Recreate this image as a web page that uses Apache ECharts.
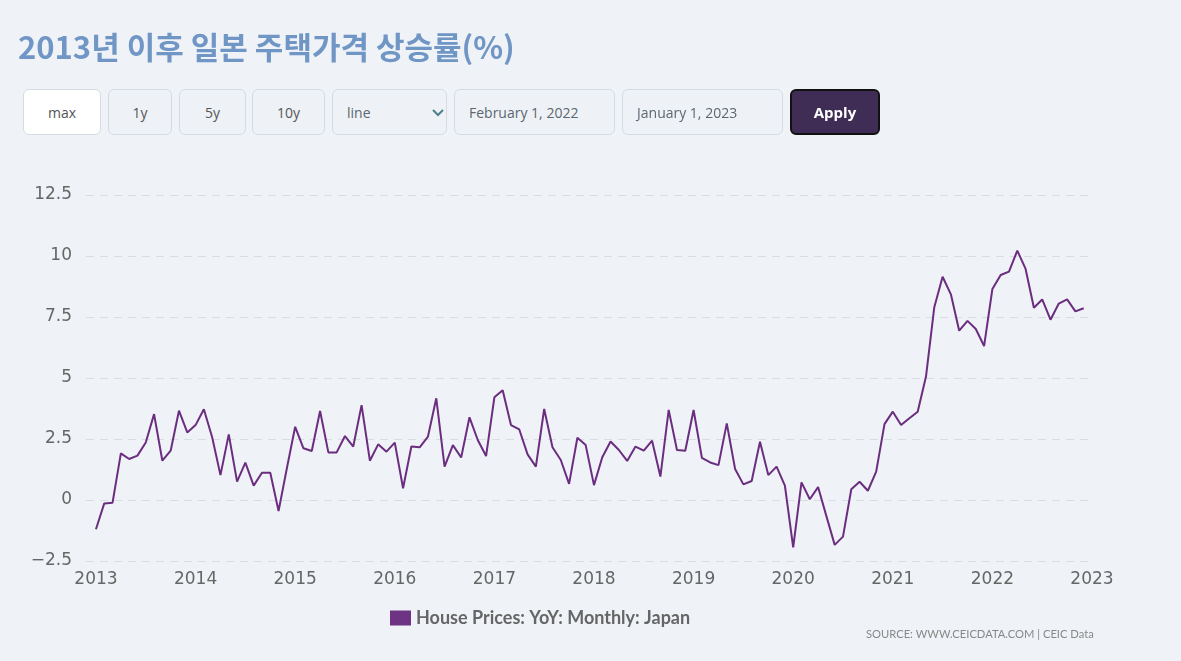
<!DOCTYPE html>
<html><head><meta charset="utf-8">
<script src="https://cdn.jsdelivr.net/npm/echarts@6/dist/echarts.min.js"></script>
<style>
html,body{margin:0;padding:0;background:#eff2f6;width:1181px;height:661px;overflow:hidden;}
#chart{position:absolute;left:0;top:0;width:1181px;height:661px;}
#title{position:absolute;left:18px;top:28px;margin:0;font-family:'Noto Sans CJK KR','Noto Sans',sans-serif;font-weight:bold;font-size:31px;line-height:36px;color:#7096c6;white-space:nowrap;z-index:2;}
.ctrl{position:absolute;top:89px;height:46px;box-sizing:border-box;border:1px solid #d3dbe3;border-radius:6px;background:#eef2f6;font-family:'Open Sans',sans-serif;font-size:14px;color:#555;display:flex;align-items:center;justify-content:center;z-index:2;}
.left{justify-content:flex-start;padding-left:14px;color:#5c6670;}
</style></head><body>
<div id="chart"></div>
<h1 id="title">2013년 이후 일본 주택가격 상승률(%)</h1>
<div class="ctrl" style="left:23px;width:78px;background:#fff;">max</div>
<div class="ctrl" style="left:108px;width:64px;">1y</div>
<div class="ctrl" style="left:179px;width:67px;">5y</div>
<div class="ctrl" style="left:252px;width:73px;">10y</div>
<div class="ctrl left" style="left:332px;width:115px;">line<svg style="position:absolute;left:99px;top:19px" width="12" height="8"><polyline points="1,1 6,6 11,1" fill="none" stroke="#4d7f8c" stroke-width="2"/></svg></div>
<div class="ctrl left" style="left:454px;width:161px;">February 1, 2022</div>
<div class="ctrl left" style="left:622px;width:161px;">January 1, 2023</div>
<div class="ctrl" style="left:790px;width:90px;background:#3f2d56;border:2px solid #111;color:#fff;font-weight:bold;font-size:15px;">Apply</div>
<script>
const startYear = 2013;
const seriesName = 'House Prices: YoY: Monthly: Japan';
const yoy = [
-1.2,-0.14,-0.11,1.91,1.68,1.82,2.36,3.52,1.61,2.02,3.66,2.77,
3.07,3.72,2.57,1.02,2.69,0.75,1.53,0.59,1.12,1.12,-0.45,1.3,
3.0,2.12,2.01,3.65,1.95,1.95,2.62,2.19,3.89,1.61,2.28,1.98,
2.35,0.48,2.19,2.16,2.6,4.17,1.37,2.25,1.74,3.39,2.46,1.8,
4.21,4.5,3.07,2.89,1.87,1.37,3.73,2.16,1.64,0.66,2.55,2.25,
0.61,1.75,2.4,2.05,1.6,2.19,2.02,2.43,0.96,3.69,2.05,2.02,
3.69,1.73,1.54,1.43,3.14,1.27,0.64,0.78,2.39,1.02,1.37,0.59,
-1.94,0.72,0.03,0.53,-0.66,-1.84,-1.5,0.44,0.75,0.38,1.16,3.11,
3.62,3.07,3.35,3.62,5.06,7.9,9.15,8.43,6.94,7.34,7.01,6.31,
8.65,9.22,9.36,10.22,9.47,7.88,8.22,7.39,8.05,8.22,7.73,7.86];
const yMin = -2.5, yMax = 12.5, yStep = 2.5;
const sourceText = 'SOURCE: WWW.CEICDATA.COM | CEIC Data';

const data = yoy.map((v, i) => [i, v]);
const chart = echarts.init(document.getElementById('chart'));
chart.setOption({
  animation: false,
  backgroundColor: 'transparent',
  grid: {left: 86, right: 89, top: 195, bottom: 100, containLabel: false},
  xAxis: {
    type: 'value', min: -1.2, max: 120, interval: 0.6,
    axisLine: {show: false}, axisTick: {show: false}, splitLine: {show: false},
    axisLabel: {
      margin: 10, color: '#666', fontSize: 17, fontFamily: 'DejaVu Sans',
      showMinLabel: true, showMaxLabel: true,
      formatter: v => { const m = Math.round(v); return (Math.abs(v - m) < 1e-6 && m % 12 === 0) ? String(startYear + m / 12) : ''; }
    }
  },
  yAxis: {
    type: 'value', min: yMin, max: yMax, interval: yStep,
    axisLine: {show: false}, axisTick: {show: false},
    splitLine: {show: true, lineStyle: {color: '#d9dde2', type: [8, 6], width: 1}},
    axisLabel: {margin: 14, color: '#666', fontSize: 17, fontFamily: 'DejaVu Sans',
      formatter: v => String(v).replace('-', '\u2212')}
  },
  legend: {
    data: [seriesName], left: 385, top: 604, icon: 'rect', itemWidth: 21, itemHeight: 15, itemGap: 6,
    textStyle: {color: '#666', fontSize: 18, fontWeight: 'bold', fontFamily: 'Lato'}
  },
  graphic: [{type: 'text', left: 866, top: 629, style: {text: sourceText, fill: '#888', fontSize: 11.2, fontFamily: 'Lato'}}],
  series: [{
    name: seriesName, type: 'line', data: data, symbol: 'none',
    lineStyle: {color: '#6b2d7f', width: 2}, itemStyle: {color: '#6f3384'}
  }]
});
</script>
</body></html>
